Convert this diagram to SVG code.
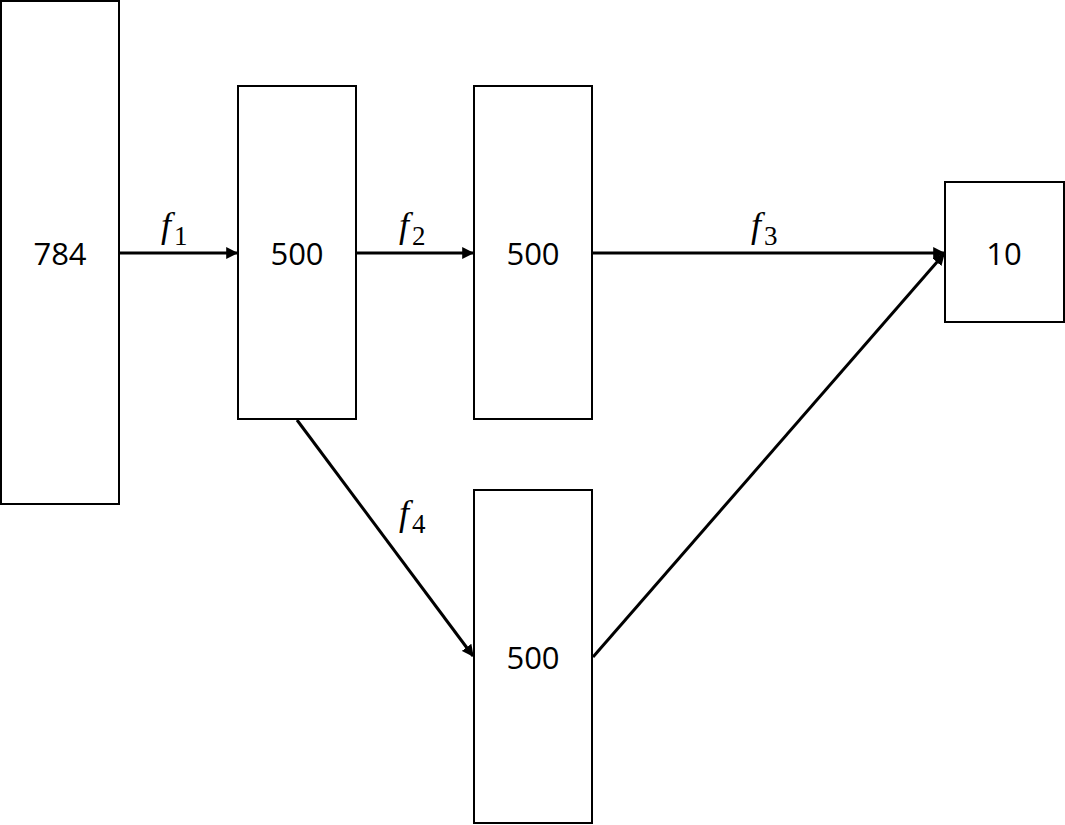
<svg xmlns="http://www.w3.org/2000/svg" width="1065" height="825" viewBox="0 0 1065 825">
<style>
.box{fill:#fff;stroke:#000;stroke-width:2}
.num{font-family:"Open Sans",sans-serif;font-size:31px;fill:#000;text-anchor:middle}
.lbl{font-family:"Liberation Serif",serif;font-size:36px;font-style:italic;fill:#000}
.sub{font-style:normal;font-size:27px}
.edge{stroke:#000;stroke-width:3;fill:none;marker-end:url(#ah)}
</style>
<defs>
<marker id="ah" viewBox="0 0 10 10" refX="9" refY="5" markerWidth="4" markerHeight="4" orient="auto" markerUnits="strokeWidth">
<path d="M0,0 L10,5 L0,10 z" fill="#000"/>
</marker>
</defs>
<rect width="1065" height="825" fill="#fff"/>
<g id="connectors">
<line class="edge" x1="119" y1="253" x2="237" y2="253"/>
<line class="edge" x1="356" y1="253" x2="473" y2="253"/>
<line class="edge" x1="592" y1="253" x2="944" y2="253"/>
<line class="edge" x1="297" y1="420" x2="473" y2="656"/>
<line class="edge" x1="593" y1="657" x2="944" y2="254"/>
<text class="lbl" x="161" y="237">f<tspan class="sub" dx="3" dy="8">1</tspan></text>
<text class="lbl" x="399" y="237">f<tspan class="sub" dx="3" dy="8">2</tspan></text>
<text class="lbl" x="751" y="237">f<tspan class="sub" dx="3" dy="8">3</tspan></text>
<text class="lbl" x="399" y="525">f<tspan class="sub" dx="3" dy="8">4</tspan></text>
</g>
<g id="n784"><rect class="box" x="1" y="1" width="118" height="503"/><text class="num" x="60" y="265">784</text></g>
<g id="n500a"><rect class="box" x="238" y="86" width="118" height="333"/><text class="num" x="297" y="265">500</text></g>
<g id="n500b"><rect class="box" x="474" y="86" width="118" height="333"/><text class="num" x="533" y="265">500</text></g>
<g id="n500c"><rect class="box" x="474" y="490" width="118" height="333"/><text class="num" x="533" y="669">500</text></g>
<g id="n10"><rect class="box" x="945" y="182" width="119" height="140"/><text class="num" x="1004" y="265">10</text></g>
</svg>
